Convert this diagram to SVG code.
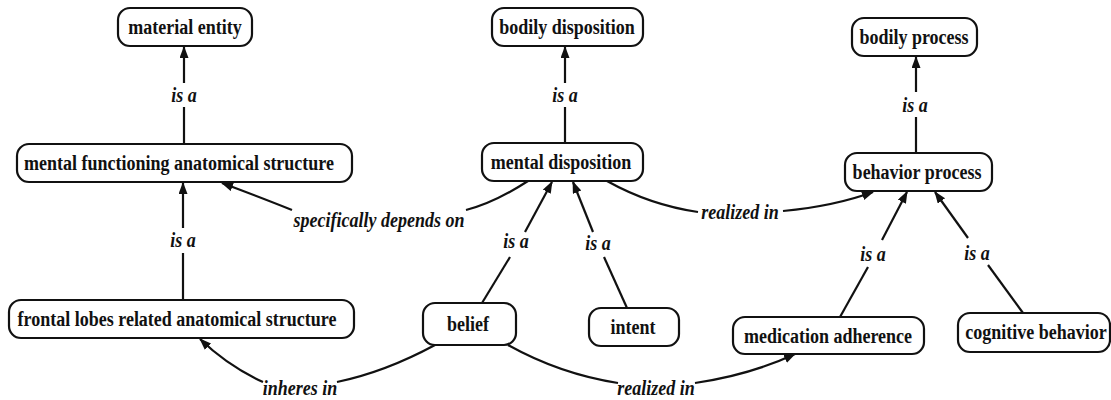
<svg xmlns="http://www.w3.org/2000/svg" width="1111" height="400" viewBox="0 0 1111 400">
  <style>
    .box { fill: #fff; stroke: #111; stroke-width: 2.2; }
    .name { font-family: "Liberation Serif", "Times New Roman", serif; font-weight: bold; font-size: 20px; fill: #111; text-anchor: middle; }
    .rel { font-family: "Liberation Serif", "Times New Roman", serif; font-weight: bold; font-style: italic; font-size: 20px; fill: #111; text-anchor: middle; }
    .edge { fill: none; stroke: #111; stroke-width: 2.2; }
  </style>
  <defs>
    <marker id="arrow" markerUnits="userSpaceOnUse" markerWidth="12" markerHeight="10" refX="11" refY="4.5" orient="auto">
      <path d="M0,0 L12,4.5 L0,9 Z" fill="#111"/>
    </marker>
  </defs>
  <rect width="1111" height="400" fill="#fff"/>

  <!-- connectors: each edge is split around its label; text is set slightly condensed -->
  <g id="connectors">
    <!-- is a: mental functioning anatomical structure -> material entity -->
    <path class="edge" d="M184,144 L184,107"/>
    <path class="edge" d="M184,83 L184,47" marker-end="url(#arrow)"/>
    <text class="rel" transform="translate(184,102) scale(0.9,1)">is a</text>

    <!-- is a: frontal lobes related anatomical structure -> mental functioning anatomical structure -->
    <path class="edge" d="M183,300 L183,253"/>
    <path class="edge" d="M183,228 L183,183" marker-end="url(#arrow)"/>
    <text class="rel" transform="translate(183,247) scale(0.9,1)">is a</text>

    <!-- is a: mental disposition -> bodily disposition -->
    <path class="edge" d="M565,143 L565,107"/>
    <path class="edge" d="M565,83 L565,47" marker-end="url(#arrow)"/>
    <text class="rel" transform="translate(565,102) scale(0.9,1)">is a</text>

    <!-- is a: behavior process -> bodily process -->
    <path class="edge" d="M916,153 L916,117"/>
    <path class="edge" d="M916,92 L916,57" marker-end="url(#arrow)"/>
    <text class="rel" transform="translate(915,112) scale(0.9,1)">is a</text>

    <!-- is a: belief -> mental disposition -->
    <path class="edge" d="M482,303 L510,257"/>
    <path class="edge" d="M525,232 L552,182" marker-end="url(#arrow)"/>
    <text class="rel" transform="translate(516,248) scale(0.9,1)">is a</text>

    <!-- is a: intent -> mental disposition -->
    <path class="edge" d="M627,308 L604,257"/>
    <path class="edge" d="M593,232 L573,182" marker-end="url(#arrow)"/>
    <text class="rel" transform="translate(598,250) scale(0.9,1)">is a</text>

    <!-- is a: medication adherence -> behavior process -->
    <path class="edge" d="M840,317 L868,267"/>
    <path class="edge" d="M882,240 L907,192" marker-end="url(#arrow)"/>
    <text class="rel" transform="translate(873,261) scale(0.9,1)">is a</text>

    <!-- is a: cognitive behavior -> behavior process -->
    <path class="edge" d="M1023,313 L988,265"/>
    <path class="edge" d="M968,238 L935,192" marker-end="url(#arrow)"/>
    <text class="rel" transform="translate(977,260) scale(0.9,1)">is a</text>

    <!-- specifically depends on: mental disposition -> mental functioning anatomical structure -->
    <path class="edge" d="M528,181 Q494,203 466,210"/>
    <path class="edge" d="M292,210 Q262,198 222,183" marker-end="url(#arrow)"/>
    <text class="rel" transform="translate(379,227) scale(0.9,1)">specifically depends on</text>

    <!-- realized in: mental disposition -> behavior process -->
    <path class="edge" d="M607,181 Q650,205 698,212"/>
    <path class="edge" d="M783,211 Q835,206 873,192" marker-end="url(#arrow)"/>
    <text class="rel" transform="translate(740,219) scale(0.9,1)">realized in</text>

    <!-- inheres in: belief -> frontal lobes related anatomical structure -->
    <path class="edge" d="M435,345 Q385,372 337,382"/>
    <path class="edge" d="M263,382 Q228,366 200,339" marker-end="url(#arrow)"/>
    <text class="rel" transform="translate(300,395) scale(0.9,1)">inheres in</text>

    <!-- realized in: belief -> medication adherence -->
    <path class="edge" d="M508,345 Q560,374 618,383"/>
    <path class="edge" d="M695,383 Q750,375 795,354" marker-end="url(#arrow)"/>
    <text class="rel" transform="translate(656,395) scale(0.9,1)">realized in</text>
  </g>

  <!-- nodes -->
  <g id="material-entity">
    <rect class="box" x="118" y="8" width="134" height="38" rx="12"/>
    <text class="name" transform="translate(185,34) scale(0.9,1)">material entity</text>
  </g>
  <g id="mental-functioning-anatomical-structure">
    <rect class="box" x="17" y="144" width="335" height="38" rx="12"/>
    <text class="name" transform="translate(179,170) scale(0.9,1)">mental functioning anatomical structure</text>
  </g>
  <g id="frontal-lobes-related-anatomical-structure">
    <rect class="box" x="9" y="300" width="345" height="38" rx="12"/>
    <text class="name" transform="translate(177,326) scale(0.9,1)">frontal lobes related anatomical structure</text>
  </g>
  <g id="bodily-disposition">
    <rect class="box" x="492" y="8" width="151" height="38" rx="12"/>
    <text class="name" transform="translate(567,34) scale(0.9,1)">bodily disposition</text>
  </g>
  <g id="mental-disposition">
    <rect class="box" x="482" y="143" width="161" height="38" rx="12"/>
    <text class="name" transform="translate(561,169) scale(0.9,1)">mental disposition</text>
  </g>
  <g id="belief">
    <rect class="box" x="423" y="303" width="93" height="42" rx="12"/>
    <text class="name" transform="translate(468,331) scale(0.9,1)">belief</text>
  </g>
  <g id="intent">
    <rect class="box" x="589" y="308" width="90" height="38" rx="12"/>
    <text class="name" transform="translate(633,334) scale(0.9,1)">intent</text>
  </g>
  <g id="bodily-process">
    <rect class="box" x="852" y="18" width="125" height="38" rx="12"/>
    <text class="name" transform="translate(914,44) scale(0.9,1)">bodily process</text>
  </g>
  <g id="behavior-process">
    <rect class="box" x="845" y="153" width="147" height="38" rx="12"/>
    <text class="name" transform="translate(917,179) scale(0.9,1)">behavior process</text>
  </g>
  <g id="medication-adherence">
    <rect class="box" x="733" y="317" width="191" height="37" rx="12"/>
    <text class="name" transform="translate(828,343) scale(0.9,1)">medication adherence</text>
  </g>
  <g id="cognitive-behavior">
    <rect class="box" x="958" y="313" width="152" height="39" rx="12"/>
    <text class="name" transform="translate(1036,339) scale(0.9,1)">cognitive behavior</text>
  </g>
</svg>
